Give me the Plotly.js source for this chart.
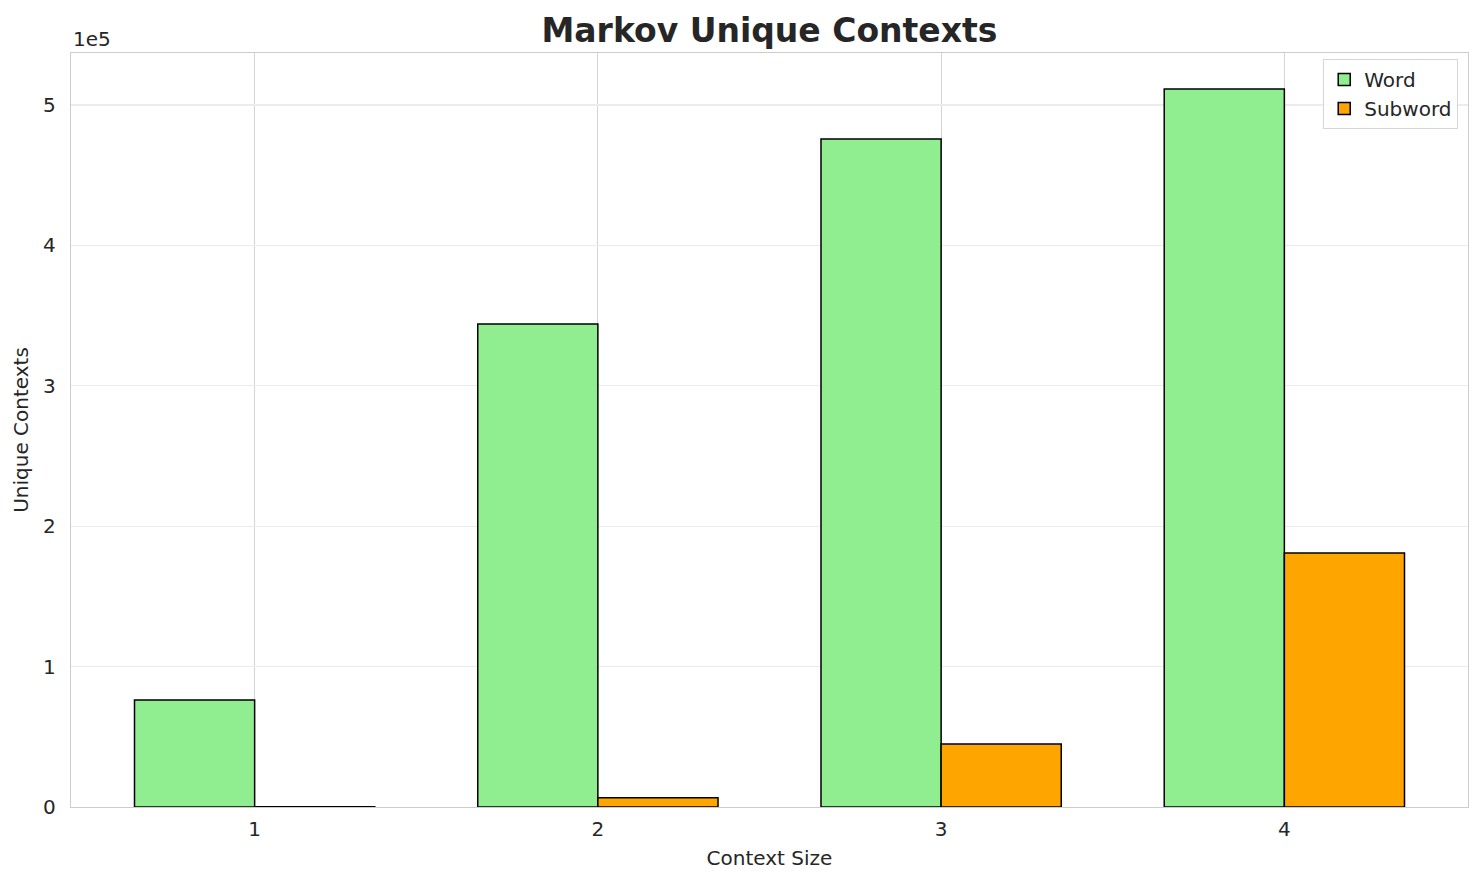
<!DOCTYPE html>
<html>
<head>
<meta charset="utf-8">
<script src="https://cdn.plot.ly/plotly-3.0.1.min.js"></script>
<style>
  html, body { margin: 0; padding: 0; background: #fff; }
  #chart { width: 1483px; height: 885px; }
</style>
</head>
<body>
<div id="chart"></div>
<script>
// values
var contextSizes = [1, 2, 3, 4];
var wordContexts = [76200, 344000, 475800, 511400];
var subwordContexts = [150, 6600, 44900, 180900];
var yTickVals = [0, 100000, 200000, 300000, 400000, 500000];
var yTickText = ['0', '1', '2', '3', '4', '5'];

var FONT = 'DejaVu Sans, sans-serif';
var TEXT_COLOR = '#262626';

function makeBarTrace(xs, ys, name, color) {
  return {
    type: 'bar',
    x: xs,
    y: ys,
    name: name,
    marker: {
      color: color,
      line: { color: '#000000', width: 1.5 }
    },
    hoverinfo: 'x+y+name'
  };
}

var traces = [
  makeBarTrace(contextSizes, wordContexts, 'Word', '#90ee90'),
  makeBarTrace(contextSizes, subwordContexts, 'Subword', '#ffa500')
];

var layout = {
  width: 1483,
  height: 885,
  paper_bgcolor: '#ffffff',
  plot_bgcolor: '#ffffff',
  font: { family: FONT, size: 20, color: TEXT_COLOR },
  barmode: 'group',
  bargap: 0.3,
  bargroupgap: 0,
  margin: { l: 71, r: 15, t: 53, b: 78, pad: 0 },
  title: {
    text: '<b>Markov Unique Contexts</b>',
    font: { family: FONT, size: 33, color: TEXT_COLOR },
    x: 0.5,
    xref: 'paper',
    y: 0.966,
    yref: 'container',
    yanchor: 'middle'
  },
  xaxis: {
    range: [0.465, 4.535],
    tickvals: contextSizes,
    ticktext: contextSizes.map(String),
    showgrid: true,
    gridcolor: '#d4d4d4',
    gridwidth: 1.2,
    zeroline: false,
    showline: true,
    linecolor: '#cccccc',
    linewidth: 1.2,
    mirror: true,
    ticks: '',
    ticklabelstandoff: 4,
    tickfont: { size: 20 },
    title: { text: 'Context Size', font: { size: 20 }, standoff: 10 }
  },
  yaxis: {
    range: [0, 537000],
    tickvals: yTickVals,
    ticktext: yTickText,
    showgrid: true,
    gridcolor: '#ececec',
    gridwidth: 1.2,
    zeroline: false,
    showline: true,
    linecolor: '#cccccc',
    linewidth: 1.2,
    mirror: true,
    ticks: '',
    ticklabelstandoff: 10,
    tickfont: { size: 20 },
    title: { text: 'Unique Contexts', font: { size: 20 }, standoff: 9 }
  },
  showlegend: true,
  legend: {
    x: 0.993,
    y: 0.992,
    xanchor: 'right',
    yanchor: 'top',
    bgcolor: 'rgba(255,255,255,0.85)',
    bordercolor: '#d6d6d6',
    borderwidth: 1,
    font: { size: 20, color: TEXT_COLOR },
    tracegroupgap: 2
  },
  annotations: [{
    text: '1e5',
    xref: 'paper',
    yref: 'paper',
    x: 0,
    y: 1,
    xanchor: 'left',
    yanchor: 'bottom',
    yshift: 0,
    showarrow: false,
    font: { size: 20, color: TEXT_COLOR }
  }]
};

Plotly.newPlot('chart', traces, layout, { displayModeBar: false, staticPlot: true });
</script>
</body>
</html>
